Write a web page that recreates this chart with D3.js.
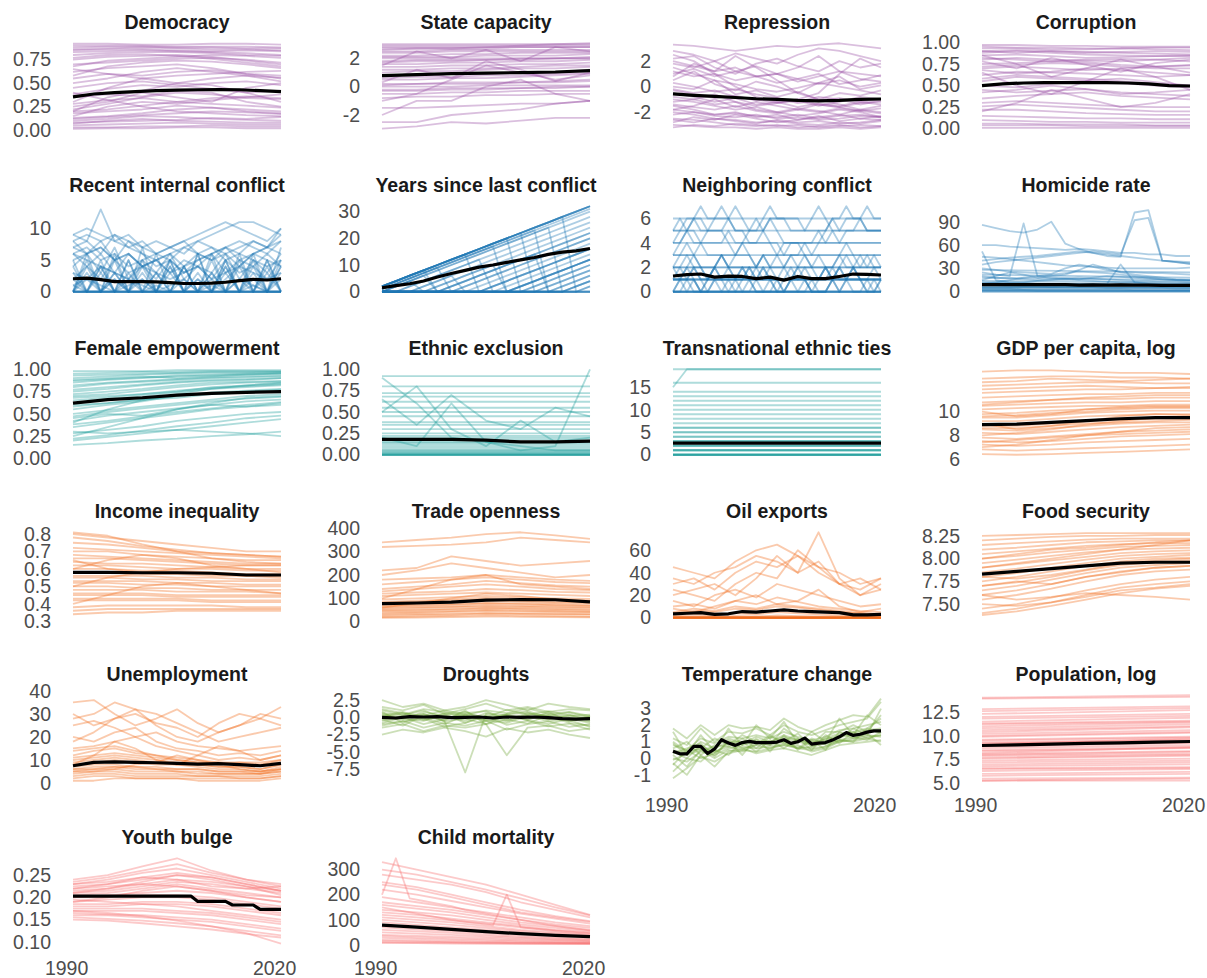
<!DOCTYPE html>
<html>
<head>
<meta charset="utf-8">
<script src="https://cdn.jsdelivr.net/npm/d3@7"></script>
<style>
  body { margin: 0; background: #fff; }
  svg { display: block; }
</style>
</head>
<body>
<div id="chart"></div>
<script>
// Each series is a list of values spread evenly over firstYear..lastYear
const firstYear = 1991, lastYear = 2021;
const xTicks = [1990, 2020];

const titles = [
  "Democracy", "State capacity", "Repression", "Corruption",
  "Recent internal conflict", "Years since last conflict", "Neighboring conflict", "Homicide rate",
  "Female empowerment", "Ethnic exclusion", "Transnational ethnic ties", "GDP per capita, log",
  "Income inequality", "Trade openness", "Oil exports", "Food security",
  "Unemployment", "Droughts", "Temperature change", "Population, log",
  "Youth bulge", "Child mortality"
];
const groups = [
  "gov", "gov", "gov", "gov",
  "conflict", "conflict", "conflict", "conflict",
  "social", "social", "social", "econ",
  "econ", "econ", "econ", "econ",
  "econ", "env", "env", "demo",
  "demo", "demo"
];

// ---- Democracy
const democracyRange = [0.015, 0.925];
const democracyTicks = ["0.00", "0.25", "0.50", "0.75"];
const democracyMean = [0.354, 0.385, 0.40, 0.41, 0.42, 0.426, 0.43, 0.433, 0.43, 0.42, 0.41];
const democracyLines = [
  [0.88,0.89,0.89,0.88,0.88,0.87,0.87], [0.85,0.86,0.86,0.85,0.84,0.85,0.84],
  [0.80,0.82,0.83,0.83,0.82,0.80,0.79], [0.75,0.78,0.79,0.80,0.78,0.74,0.70],
  [0.70,0.72,0.74,0.76,0.77,0.75,0.72], [0.62,0.66,0.68,0.70,0.66,0.60,0.55],
  [0.55,0.60,0.58,0.62,0.64,0.60,0.58], [0.30,0.45,0.55,0.58,0.60,0.62,0.63],
  [0.20,0.35,0.42,0.50,0.48,0.40,0.30], [0.45,0.50,0.52,0.48,0.44,0.40,0.42],
  [0.25,0.30,0.40,0.35,0.30,0.45,0.50], [0.15,0.25,0.30,0.28,0.32,0.35,0.38],
  [0.18,0.20,0.22,0.26,0.24,0.22,0.20], [0.12,0.14,0.16,0.18,0.20,0.19,0.17],
  [0.10,0.12,0.15,0.14,0.12,0.11,0.10], [0.08,0.09,0.10,0.11,0.13,0.12,0.14],
  [0.05,0.06,0.07,0.08,0.07,0.06,0.06], [0.03,0.03,0.04,0.04,0.05,0.04,0.04],
  [0.015,0.02,0.02,0.03,0.03,0.02,0.02], [0.92,0.92,0.91,0.91,0.92,0.92,0.91],
  [0.35,0.38,0.36,0.42,0.40,0.30,0.25], [0.65,0.60,0.55,0.50,0.55,0.58,0.52],
  [0.22,0.28,0.35,0.40,0.38,0.34,0.33], [0.40,0.32,0.25,0.20,0.18,0.16,0.15],
  [0.90,0.90,0.90,0.89,0.89,0.89,0.88], [0.83,0.84,0.85,0.84,0.83,0.82,0.80],
  [0.77,0.80,0.81,0.79,0.76,0.72,0.68], [0.58,0.68,0.72,0.74,0.73,0.70,0.66],
  [0.50,0.55,0.62,0.66,0.62,0.58,0.56], [0.28,0.32,0.34,0.30,0.28,0.26,0.24],
  [0.20,0.22,0.26,0.30,0.34,0.36,0.34], [0.13,0.15,0.18,0.22,0.24,0.20,0.18],
  [0.07,0.10,0.12,0.10,0.09,0.08,0.08], [0.38,0.44,0.48,0.46,0.50,0.52,0.48],
  [0.68,0.74,0.76,0.78,0.80,0.79,0.77], [0.86,0.87,0.88,0.87,0.86,0.86,0.85]
];

// ---- State capacity
const stateRange = [-2.97, 3.07];
const stateTicks = ["-2", "0", "2"];
const stateMean = [0.79, 0.86, 0.92, 0.96, 1.0, 1.04, 1.14];
const stateLines = [
  [3.0,3.0,3.0,3.0,3.0,3.0,3.0], [2.8,2.8,2.8,2.8,2.8,2.8,2.8],
  [2.5,2.5,2.6,2.6,2.6,2.6,2.6], [2.2,2.2,2.3,2.3,2.4,2.4,2.4],
  [2.0,2.0,2.0,2.0,2.0,2.0,2.0], [1.7,1.8,1.8,1.9,1.9,2.0,2.0],
  [1.4,1.4,1.5,1.5,1.6,1.6,1.7], [1.0,1.1,1.1,1.2,1.3,1.3,1.4],
  [0.8,0.8,0.9,0.9,1.0,1.0,1.2], [0.5,0.5,0.6,0.6,0.7,0.8,0.9],
  [0.2,0.2,0.3,0.3,0.3,0.4,0.5], [0.0,0.0,0.0,0.1,0.1,0.1,0.1],
  [-0.2,-0.2,-0.1,-0.1,-0.1,0.0,0.0], [-0.5,-0.5,-0.4,-0.4,-0.3,-0.3,-0.3],
  [-1.0,-0.5,0.5,1.5,1.0,0.5,0.8], [-2.0,-1.0,-1.0,0.0,0.5,-0.5,-1.0],
  [-2.5,-2.5,-2.0,-1.8,-1.6,-1.2,-1.0], [-2.97,-2.8,-2.5,-2.6,-2.4,-2.2,-2.2],
  [-1.5,-1.5,-1.4,-1.3,-1.2,-1.2,-1.0], [1.5,2.5,2.0,2.6,1.8,2.8,2.5],
  [-0.8,-0.7,-0.7,-0.6,-0.6,-0.5,-0.5], [2.6,2.7,2.7,2.8,2.9,3.0,3.07],
  [0.3,1.2,0.6,1.8,1.2,0.4,1.0], [2.9,2.9,2.9,2.9,2.9,2.9,2.9],
  [2.4,2.4,2.5,2.5,2.5,2.5,2.5], [2.1,2.1,2.1,2.2,2.2,2.2,2.3],
  [1.8,1.9,1.9,1.9,2.0,2.0,2.1], [1.2,1.2,1.3,1.3,1.4,1.5,1.5],
  [0.6,0.7,0.7,0.8,0.8,0.9,1.0], [0.1,0.2,0.2,0.2,0.3,0.3,0.4],
  [-0.3,-0.3,-0.2,-0.2,-0.1,-0.1,0.0], [2.7,2.7,2.7,2.7,2.8,2.8,2.8],
  [1.6,1.6,1.7,1.7,1.8,1.8,1.9]
];

// ---- Repression
const repressionRange = [-3.3, 3.4];
const repressionTicks = ["-2", "0", "2"];
const repressionMean = [-0.57, -0.68, -0.76, -0.85, -0.95, -1.0, -1.08, -1.12, -1.08, -1.0, -0.97];
const repressionLines = [
  [3.3,3.2,3.0,2.8,3.0,3.2,3.1,3.3,3.4,3.2,3.0], [2.8,2.5,2.0,2.6,2.2,1.8,2.5,3.0,2.8,2.4,2.0],
  [2.2,2.4,1.5,1.0,1.8,2.2,1.6,1.2,2.0,1.5,1.8], [1.8,1.5,2.0,1.2,0.8,1.0,1.5,2.4,1.2,1.0,0.8],
  [1.2,0.8,1.0,0.5,0.8,0.3,0.6,1.0,0.2,0.5,0.9], [0.5,1.2,0.2,-0.3,0.4,0.0,-0.5,0.3,0.8,-0.2,0.1],
  [0.0,-0.2,0.5,-0.6,-0.3,-0.8,-0.4,-1.0,-0.5,-0.7,-0.3], [-0.5,-0.8,-1.2,-0.9,-1.4,-1.2,-1.6,-1.3,-1.5,-1.2,-1.0],
  [-1.0,-1.2,-1.5,-1.8,-1.6,-2.0,-1.7,-1.9,-2.2,-1.8,-2.0], [-1.5,-1.8,-2.2,-2.0,-2.4,-2.2,-2.6,-2.4,-2.2,-2.5,-2.3],
  [-2.0,-2.2,-2.5,-2.6,-2.8,-2.7,-2.9,-3.0,-2.8,-2.9,-2.7], [-2.5,-2.6,-2.8,-3.0,-3.1,-3.0,-3.2,-3.1,-3.0,-3.2,-3.1],
  [-3.0,-3.1,-3.2,-3.2,-3.3,-3.2,-3.3,-3.3,-3.2,-3.3,-3.2], [0.8,1.8,1.2,2.4,1.5,0.5,-0.5,-1.0,-1.4,-1.8,-1.5],
  [-2.8,-2.4,-2.6,-2.2,-2.5,-2.8,-2.6,-2.3,-2.7,-2.5,-2.6], [-1.8,-1.5,-1.0,-1.6,-1.2,-1.5,-1.8,-1.4,-1.6,-1.9,-1.7],
  [2.5,2.0,1.0,0.0,-0.8,-1.2,-1.0,-0.5,1.0,2.2,1.5], [-0.2,-0.5,-0.3,-0.8,-1.0,-1.3,-1.1,-1.5,-1.2,-0.8,-1.0],
  [1.5,1.0,0.5,0.2,-0.2,-0.4,-0.1,0.3,0.0,-0.3,-0.6], [-1.2,-1.0,-1.4,-1.2,-1.8,-2.0,-2.3,-2.1,-1.8,-2.0,-2.4],
  [-3.2,-3.0,-3.1,-2.9,-3.0,-3.1,-3.0,-3.2,-3.1,-3.0,-3.1], [-2.2,-2.0,-2.3,-2.4,-2.2,-2.5,-2.4,-2.6,-2.5,-2.3,-2.4],
  [-0.8,-1.0,-0.6,-1.2,-1.5,-1.3,-1.0,-1.4,-1.6,-1.3,-1.2], [0.3,0.0,-0.4,-0.2,-0.6,-0.9,-1.2,-0.8,-1.0,-1.4,-1.1],
  [2.0,1.6,1.2,1.5,0.8,1.0,0.6,0.2,0.5,0.0,0.3], [-2.6,-2.8,-2.5,-2.7,-2.9,-2.6,-2.8,-2.7,-2.9,-2.8,-2.6],
  [-1.4,-1.6,-1.8,-1.5,-1.9,-2.1,-1.8,-2.0,-1.7,-1.9,-2.1], [1.0,1.4,0.8,1.2,1.6,1.0,0.4,0.8,1.2,0.6,0.4],
  [-1.8,-2.0,-2.2,-2.1,-2.3,-2.4,-2.2,-2.5,-2.3,-2.2,-2.4], [-0.3,-0.6,-0.9,-0.7,-1.1,-0.9,-1.3,-1.1,-0.9,-1.2,-1.4]
];

// ---- Corruption
const corruptionRange = [0.0, 0.99];
const corruptionTicks = ["0.00", "0.25", "0.50", "0.75", "1.00"];
const corruptionMean = [0.50, 0.52, 0.53, 0.535, 0.535, 0.535, 0.535, 0.53, 0.52, 0.50, 0.495];
const corruptionLines = [
  [0.97,0.97,0.96,0.96,0.95,0.95,0.95], [0.93,0.93,0.92,0.92,0.93,0.92,0.91],
  [0.90,0.88,0.90,0.89,0.88,0.87,0.86], [0.85,0.86,0.84,0.82,0.83,0.84,0.85],
  [0.80,0.82,0.80,0.79,0.78,0.80,0.82], [0.75,0.76,0.78,0.77,0.74,0.72,0.73],
  [0.70,0.72,0.70,0.68,0.70,0.72,0.74], [0.62,0.66,0.65,0.64,0.62,0.60,0.62],
  [0.55,0.60,0.58,0.56,0.58,0.54,0.50], [0.50,0.48,0.52,0.55,0.53,0.50,0.48],
  [0.42,0.45,0.50,0.46,0.40,0.42,0.45], [0.35,0.38,0.40,0.42,0.38,0.36,0.34],
  [0.30,0.32,0.30,0.28,0.26,0.25,0.25], [0.22,0.22,0.20,0.18,0.17,0.16,0.16],
  [0.15,0.14,0.13,0.12,0.12,0.11,0.11], [0.10,0.09,0.08,0.08,0.07,0.07,0.07],
  [0.04,0.04,0.04,0.03,0.03,0.03,0.03], [0.01,0.01,0.01,0.01,0.01,0.01,0.01],
  [0.65,0.50,0.40,0.55,0.70,0.60,0.45], [0.85,0.75,0.60,0.70,0.80,0.72,0.65],
  [0.20,0.30,0.45,0.35,0.25,0.30,0.40], [0.78,0.70,0.82,0.74,0.66,0.76,0.80],
  [0.95,0.94,0.94,0.93,0.93,0.94,0.94], [0.88,0.90,0.88,0.86,0.85,0.84,0.84],
  [0.82,0.80,0.78,0.80,0.81,0.80,0.78], [0.72,0.74,0.76,0.75,0.72,0.70,0.70],
  [0.58,0.62,0.60,0.58,0.55,0.52,0.50], [0.45,0.42,0.44,0.46,0.42,0.40,0.38],
  [0.26,0.28,0.26,0.24,0.22,0.20,0.20], [0.06,0.06,0.05,0.05,0.05,0.04,0.04],
  [0.68,0.64,0.66,0.70,0.68,0.65,0.62], [0.90,0.91,0.90,0.88,0.89,0.90,0.89]
];

// ---- Recent internal conflict
const recentRange = [0, 13.5];
const recentTicks = ["0", "5", "10"];
const recentMean = [2.05, 2.15, 1.9, 1.6, 1.6, 1.6, 1.55, 1.45, 1.3, 1.3, 1.35, 1.5, 1.75, 1.95, 1.85, 2.05];
const recentLines = [
  [0,5,0,6,0,4,0,5,0,6,0,5,0,4,0,5], [4,0,5,0,3,0,6,0,4,0,5,0,6,0,5,0],
  [7,8,6,9,7,8,6,7,8,6,7,5,6,8,7,9], [9,8,13,8,9,7,8,7,6,8,7,6,7,8,7,10],
  [6,7,5,6,4,5,6,5,7,6,5,6,4,6,7,6], [3,2,4,3,2,4,3,2,3,4,2,3,4,3,2,3],
  [8,9,8,9,8,7,6,7,8,9,10,11,10,9,8,10], [2,0,3,0,2,0,0,3,0,2,0,4,0,3,0,4],
  [5,6,7,5,8,6,4,5,3,5,6,7,8,7,6,8], [0,0], [0,0], [0,0], [0,0], [0,0], [0,0],
  [1,0,0,2,0,0,1,0,0,0,2,0,0,1,0,0], [6,5,4,3,2,1,0,0,0,0,0,2,4,6,5,4],
  [9,10,9,8,7,6,5,6,7,8,9,10,11,11,10,9], [4,6,3,7,2,5,3,6,2,4,3,6,2,5,3,6],
  [7,6,8,5,6,4,5,3,4,6,5,7,6,5,4,5], [0,3,0,2,0,3,0,4,0,2,0,3,0,2,0,3],
  [5,0,4,0,5,0,3,0,4,0,6,0,4,0,5,0], [0,4,0,3,0,5,0,4,0,3,0,4,0,5,0,4],
  [3,0,4,0,5,0,3,0,4,0,3,0,5,0,4,0], [2,4,2,5,3,4,2,5,3,4,2,5,3,4,2,5],
  [0,2,0,3,0,2,0,0,2,0,3,0,2,0,3,0], [6,4,6,3,6,4,5,3,5,4,6,3,5,4,6,4],
  [1,2,1,0,1,2,0,1,2,0,1,0,2,1,0,2], [0,6,0,5,0,7,0,5,0,6,0,5,0,6,0,7],
  [8,6,7,5,6,4,5,6,4,5,6,7,5,6,7,8]
];

// ---- Years since last conflict
const yearsRange = [0, 32];
const yearsTicks = ["0", "10", "20", "30"];
const yearsMean = [1.5, 2.3, 3.0, 4.0, 5.5, 6.8, 8.0, 9.2, 10.0, 11.0, 11.9, 12.8, 14.0, 14.8, 15.3, 16.2];
const yearsLines = [
  [2,4,6,8,10,12,14,16,18,20,22,24,26,28,30,32], [2,4,6,8,10,12,14,16,18,20,22,24,26,28,30,32],
  [2,4,6,8,10,12,14,16,18,20,22,24,26,28,30,32], [2,4,6,8,10,12,14,16,18,20,22,24,26,28,30,32],
  [0,2,4,6,8,10,12,14,16,18,20,22,24,26,28,30],
  [0,0,2,4,6,8,10,12,14,16,18,20,22,24,26,28], [0,0,0,2,4,6,8,10,12,14,16,18,20,22,24,26],
  [0,0,0,0,2,4,6,8,10,12,14,16,18,20,22,24], [0,0,0,0,0,0,2,4,6,8,10,12,14,16,18,20],
  [0,0,0,0,0,0,0,0,2,4,6,8,10,12,14,16], [0,0,0,0,0,0,0,0,0,0,2,4,6,8,10,12],
  [0,0,0,0,0,0,0,0,0,0,0,0,2,4,6,8], [0,0,0,0,0,0,0,0,0,0,0,0,0,0,2,4],
  [2,4,6,8,0,2,4,6,8,10,12,14,0,2,4,6], [0,2,4,0,2,4,6,8,10,0,2,4,6,8,10,12],
  [2,4,6,8,10,12,14,16,18,20,0,2,4,6,8,10], [0,0,2,4,6,8,10,12,0,0,2,4,6,8,10,12],
  [2,4,6,8,10,12,14,0,2,4,6,8,10,12,14,16], [0,2,4,6,8,10,12,14,16,18,20,22,24,0,2,4],
  [0,0], [0,0], [0,0], [0,0], [2,4,6,8,10,12,14,16,18,20,22,24,26,28,0,2],
  [0,0,0,2,4,6,0,0,2,4,6,8,10,12,14,16], [1,3,5,7,9,11,13,15,17,19,21,23,25,27,29,31],
  [0,0,0,0,0,2,4,6,8,10,12,14,16,18,20,22], [0,0,0,0,0,0,0,2,4,6,8,10,12,14,16,18],
  [0,0,0,0,0,0,0,0,0,2,4,6,8,10,12,14], [0,0,0,0,0,0,0,0,0,0,0,2,4,6,8,10],
  [0,0,0,0,0,0,0,0,0,0,0,0,0,2,4,6], [1,3,5,7,9,11,13,15,17,19,21,23,0,0,2,4],
  [1,3,5,7,9,0,2,4,6,8,10,12,14,16,18,20], [2,4,6,8,10,12,14,16,18,20,22,0,2,4,6,8],
  [0,2,4,6,0,2,4,6,8,10,12,14,16,18,20,22], [1,3,5,7,9,11,13,15,17,0,2,4,6,8,10,12],
  [0,0,0,0,0,0,0,0,0,0,0,0,0,0,0,2]
];

// ---- Neighboring conflict (mostly yearly)
const neighborRange = [0, 7];
const neighborTicks = ["0", "2", "4", "6"];
const neighborMean = [1.29, 1.40, 1.45, 1.20, 1.28, 1.25, 1.07, 1.2, 0.95, 1.25, 1.07, 1.07, 1.25, 1.45, 1.42, 1.37];
const neighborLines = [
  [0,0], [0,0], [0,0], [0,0], [0,0], [1,1], [1,1], [1,1], [2,2], [2,2], [3,3], [4,4], [5,5], [6,6],
  [1,1,1,1,0,1,1,1,1,1,2,1,1,1,1,1,0,1,1,1,1,1,1,2,1,1,1,1,1,1,1],
  [2,2,3,2,2,2,2,3,2,2,2,2,2,1,2,2,2,3,2,2,2,2,2,2,3,2,2,2,2,2,2],
  [3,3,3,3,4,3,3,3,3,3,3,3,2,3,3,3,3,3,3,4,3,3,3,3,3,3,3,3,3,3,3],
  [4,4,5,4,4,4,4,4,5,4,4,4,4,4,4,3,4,4,4,4,4,5,4,4,4,4,4,4,4,4,4],
  [5,6,5,6,7,6,6,6,6,7,6,5,5,6,7,6,6,6,6,5,5,5,5,6,6,7,6,6,7,6,6],
  [0,1,0,1,0,0,1,0,0,1,0,1,0,0,0,1,0,1,0,0,1,0,0,1,0,1,0,0,1,0,1],
  [1,2,1,2,1,1,2,1,2,1,1,2,1,2,1,1,1,2,1,2,1,1,2,1,2,1,2,1,1,2,1],
  [2,3,4,3,2,1,2,3,2,3,4,3,2,3,2,1,2,3,3,3,2,1,2,2,3,4,3,2,3,2,2],
  [0,0,1,2,1,0,0,0,1,0,0,0,1,2,1,0,0,0,0,1,0,0,0,1,2,3,2,1,0,0,1],
  [3,4,5,5,4,5,5,5,4,3,4,5,6,5,4,4,3,4,4,3,3,4,4,5,4,5,5,5,5,5,5],
  [1,1,1,0,0,0,1,1,1,1,1,1,0,0,0,0,1,1,1,1,0,0,0,1,1,1,1,1,1,1,1],
  [4,5,6,6,6,5,6,7,6,5,5,4,4,5,6,5,4,4,4,4,4,4,5,6,5,6,6,6,5,5,5],
  [0,1,2,1,0,1,2,1,0,0,1,2,1,0,1,0,0,1,2,1,0,1,2,1,0,1,2,1,0,1,0],
  [2,1,2,3,2,1,2,3,2,1,2,1,2,3,2,3,2,1,2,3,2,3,2,1,2,1,2,3,2,3,2],
  [5,5,5,6,5,5,5,5,6,5,5,5,5,5,6,6,6,5,5,5,6,7,6,5,5,5,5,6,5,5,5]
];

// ---- Homicide rate
const homicideRange = [0, 110];
const homicideTicks = ["0", "30", "60", "90"];
const homicideMean = [9.2, 9.2, 9.2, 9.2, 9.2, 9.2, 9.2, 8.5, 8.8, 8.5, 8.8, 8.6, 8.4, 8.2, 8.2, 8.2];
const homicideLines = [
  [86,82,78,76,80,90,62,55,50,48,46,44,42,40,39,38], [25,22,20,88,20,18,17,16,18,20,19,18,17,16,15,15],
  [52,15,12,12,14,15,16,15,14,13,12,12,11,10,10,10], [40,42,44,45,46,48,50,52,50,46,45,102,105,40,38,36],
  [35,38,40,42,44,46,48,50,52,50,48,92,95,40,38,36], [60,60,58,57,56,55,54,55,54,52,50,50,48,48,46,46],
  [45,44,42,40,38,36,34,33,32,31,30,30,30,30,30,31], [30,28,26,25,24,23,30,35,32,28,26,25,24,24,23,22],
  [20,18,17,16,15,16,17,18,17,16,15,14,14,13,13,12], [12,12,11,11,10,10,10,10,10,9,9,9,8,8,8,8],
  [8,8,7,7,7,6,6,6,6,5,5,5,5,5,4,4], [4,4,4,3,3,3,3,3,3,3,3,2,2,2,2,2],
  [2,2,2,2,1,1,1,1,1,1,1,1,1,1,1,1], [15,20,25,22,18,20,22,28,35,30,25,22,20,18,16,15],
  [10,12,15,18,20,22,24,26,25,24,22,20,18,16,15,14], [5,5,5,6,6,6,7,7,8,10,35,12,10,9,8,8],
  [0,0], [1,1], [0.5,0.5], [2,1.5], [3,3], [5,5], [6,5], [7,6], [9,8], [11,10], [14,12],
  [18,15], [22,18], [28,25]
];

// ---- Female empowerment
const femaleRange = [0.04, 1.0];
const femaleTicks = ["0.00", "0.25", "0.50", "0.75", "1.00"];
const femaleMean = [0.62, 0.66, 0.68, 0.71, 0.73, 0.74, 0.75];
const femaleLines = [
  [0.95,0.96,0.97,0.97,0.98,0.98,0.98], [0.90,0.92,0.94,0.95,0.96,0.96,0.97],
  [0.85,0.88,0.90,0.92,0.93,0.94,0.95], [0.80,0.84,0.86,0.88,0.90,0.91,0.92],
  [0.75,0.78,0.82,0.85,0.87,0.88,0.90], [0.70,0.72,0.76,0.80,0.83,0.85,0.86],
  [0.62,0.66,0.70,0.74,0.78,0.80,0.82], [0.55,0.60,0.64,0.70,0.74,0.76,0.78],
  [0.50,0.54,0.58,0.62,0.66,0.70,0.72], [0.42,0.48,0.52,0.56,0.60,0.64,0.66],
  [0.35,0.40,0.45,0.50,0.55,0.58,0.60], [0.28,0.32,0.36,0.42,0.46,0.50,0.52],
  [0.20,0.24,0.28,0.32,0.36,0.40,0.44], [0.15,0.17,0.20,0.22,0.25,0.27,0.30],
  [0.40,0.55,0.65,0.72,0.78,0.82,0.85], [0.30,0.28,0.30,0.32,0.30,0.28,0.25],
  [0.45,0.50,0.48,0.55,0.60,0.58,0.62], [0.88,0.90,0.92,0.90,0.92,0.94,0.95],
  [0.60,0.62,0.66,0.68,0.72,0.74,0.75], [0.25,0.35,0.45,0.55,0.62,0.68,0.70],
  [0.68,0.70,0.72,0.75,0.80,0.82,0.84], [0.93,0.94,0.95,0.96,0.97,0.97,0.97],
  [0.87,0.89,0.91,0.93,0.94,0.95,0.96], [0.82,0.85,0.87,0.89,0.91,0.92,0.93],
  [0.77,0.80,0.83,0.86,0.88,0.89,0.90], [0.72,0.75,0.78,0.82,0.85,0.86,0.87],
  [0.65,0.68,0.72,0.76,0.79,0.81,0.83], [0.58,0.62,0.66,0.70,0.73,0.75,0.77],
  [0.47,0.52,0.56,0.60,0.64,0.67,0.69], [0.38,0.42,0.47,0.52,0.56,0.60,0.63],
  [0.22,0.26,0.31,0.36,0.40,0.45,0.48], [0.98,0.98,0.98,0.99,0.99,0.99,0.99]
];

// ---- Ethnic exclusion
const ethnicRange = [0, 1.0];
const ethnicTicks = ["0.00", "0.25", "0.50", "0.75", "1.00"];
const ethnicMean = [0.18, 0.18, 0.18, 0.17, 0.15, 0.15, 0.16];
const ethnicLines = [
  [0,0], [0,0], [0,0], [0,0], [0,0], [0.01,0.01], [0.02,0.02], [0.03,0.03], [0.04,0.04],
  [0.05,0.05], [0.06,0.06], [0.08,0.08], [0.10,0.10], [0.12,0.12], [0.14,0.14], [0.15,0.15],
  [0.18,0.18], [0.20,0.20], [0.22,0.22], [0.25,0.25], [0.30,0.30], [0.35,0.35], [0.38,0.38],
  [0.45,0.45], [0.50,0.50], [0.55,0.55], [0.62,0.62], [0.68,0.68], [0.72,0.72], [0.80,0.80], [0.92,0.92],
  [0.90,0.60,0.20,0.15,0.10,0.05,0.05], [0.50,0.80,0.30,0.10,0.40,0.15,0.20],
  [0.20,0.10,0.60,0.15,0.05,0.10,1.0], [0.65,0.35,0.70,0.40,0.30,0.55,0.45]
];

// ---- Transnational ethnic ties
const transRange = [0, 19];
const transTicks = ["0", "5", "10", "15"];
const transMean = [2.6, 2.6];
const transLines = [
  [0,0], [0,0], [0,0], [0,0], [0,0], [0,0], [1,1], [1,1], [1,1], [1,1], [2,2], [2,2], [2,2],
  [3,3], [3,3], [3,3], [4,4], [4,4], [5,5], [5,5], [6,6], [6,6], [7,7], [8,8], [9,9],
  [10,10], [11,11], [12,12], [13,13], [14,14], [16,16], [19,19],
  [15,19,19,19,19,19,19,19,19,19,19,19,19,19,19,19]
];

// ---- GDP per capita, log
const gdpRange = [6.35, 13.6];
const gdpTicks = ["6", "8", "10"];
const gdpMean = [8.9, 8.95, 9.1, 9.25, 9.4, 9.5, 9.5];
const gdpLines = [
  [13.4,13.5,13.5,13.4,13.3,13.3,13.2], [12.8,12.9,13.0,13.0,12.9,12.9,12.8],
  [12.2,12.3,12.4,12.5,12.5,12.4,12.4], [11.6,11.7,11.8,11.9,11.9,12.0,12.0],
  [11.2,11.3,11.4,11.5,11.5,11.6,11.6], [10.8,10.9,11.0,11.1,11.1,11.2,11.2],
  [10.5,10.6,10.7,10.8,10.8,10.9,10.9], [10.2,10.3,10.4,10.5,10.5,10.6,10.6],
  [9.8,9.9,10.1,10.2,10.3,10.4,10.4], [9.5,9.5,9.7,9.9,10.0,10.1,10.1],
  [9.2,9.2,9.4,9.6,9.7,9.8,9.8], [8.8,8.8,9.0,9.2,9.3,9.4,9.4],
  [8.5,8.4,8.6,8.8,9.0,9.1,9.1], [8.2,8.1,8.3,8.5,8.7,8.8,8.9],
  [7.8,7.7,7.9,8.1,8.3,8.4,8.5], [7.5,7.4,7.5,7.7,7.9,8.0,8.1],
  [7.2,7.1,7.2,7.4,7.5,7.6,7.7], [6.8,6.7,6.8,6.9,7.0,7.1,7.2],
  [6.4,6.35,6.4,6.5,6.6,6.7,6.8], [9.0,8.5,8.8,9.2,9.6,9.8,9.7],
  [10.0,9.6,9.8,10.2,10.4,10.5,10.5], [8.0,8.2,8.5,8.9,9.2,9.5,9.6],
  [7.0,7.2,7.6,8.0,8.3,8.6,8.7], [11.9,12.0,12.1,12.2,12.1,12.0,12.1],
  [9.6,9.7,9.9,10.0,10.2,10.3,10.3], [8.6,8.6,8.8,9.0,9.1,9.2,9.3],
  [7.4,7.6,7.8,8.0,8.1,8.2,8.3], [10.6,10.8,11.0,11.2,11.3,11.4,11.4],
  [12.5,12.6,12.8,12.7,12.6,12.7,12.8]
];

// ---- Income inequality
const incomeRange = [0.32, 0.81];
const incomeTicks = ["0.3", "0.4", "0.5", "0.6", "0.7", "0.8"];
const incomeMean = [0.58, 0.58, 0.578, 0.578, 0.575, 0.565, 0.565];
const incomeLines = [
  [0.80,0.78,0.76,0.74,0.72,0.70,0.70], [0.75,0.74,0.72,0.70,0.69,0.68,0.67],
  [0.70,0.70,0.68,0.67,0.66,0.65,0.65], [0.66,0.66,0.65,0.64,0.63,0.62,0.62],
  [0.62,0.62,0.61,0.60,0.60,0.59,0.59], [0.58,0.58,0.57,0.57,0.56,0.56,0.56],
  [0.55,0.55,0.54,0.54,0.53,0.53,0.53], [0.52,0.52,0.51,0.51,0.50,0.50,0.50],
  [0.48,0.48,0.48,0.47,0.47,0.47,0.46], [0.45,0.45,0.45,0.44,0.44,0.44,0.44],
  [0.42,0.42,0.42,0.42,0.41,0.41,0.41], [0.38,0.39,0.39,0.39,0.39,0.38,0.38],
  [0.34,0.35,0.35,0.36,0.36,0.36,0.36], [0.40,0.45,0.50,0.52,0.50,0.48,0.46],
  [0.60,0.65,0.68,0.66,0.62,0.60,0.58], [0.81,0.79,0.74,0.70,0.66,0.64,0.63],
  [0.50,0.55,0.58,0.60,0.61,0.62,0.62], [0.65,0.60,0.58,0.58,0.57,0.56,0.55],
  [0.72,0.71,0.70,0.69,0.68,0.67,0.66], [0.68,0.67,0.66,0.65,0.64,0.63,0.63],
  [0.64,0.63,0.63,0.62,0.61,0.60,0.60], [0.60,0.60,0.59,0.59,0.58,0.57,0.57],
  [0.56,0.56,0.56,0.55,0.55,0.54,0.54], [0.53,0.53,0.53,0.52,0.52,0.51,0.51],
  [0.50,0.50,0.49,0.49,0.48,0.48,0.48], [0.46,0.46,0.46,0.45,0.45,0.45,0.45],
  [0.43,0.43,0.43,0.43,0.42,0.42,0.42], [0.36,0.37,0.37,0.37,0.37,0.37,0.37],
  [0.78,0.76,0.73,0.71,0.69,0.68,0.67]
];

// ---- Trade openness
const tradeRange = [17, 383];
const tradeTicks = ["0", "100", "200", "300", "400"];
const tradeMean = [77, 80, 84, 92, 95, 94, 85];
const tradeLines = [
  [340,350,360,375,383,370,355], [320,325,330,340,360,350,340],
  [200,220,250,230,210,190,200], [160,170,180,190,180,170,165],
  [130,140,150,160,150,140,135], [110,115,120,125,120,115,110],
  [95,100,105,110,105,100,98], [80,85,90,95,90,85,82],
  [70,72,75,80,78,74,70], [60,62,65,70,68,65,62],
  [50,52,55,60,58,55,52], [40,42,45,50,48,45,42],
  [30,32,35,38,36,34,32], [20,22,25,28,26,24,22],
  [17,18,20,22,21,20,19], [100,140,180,200,160,150,140],
  [60,80,100,120,110,95,90], [220,230,280,260,240,250,260],
  [25,28,30,35,33,31,30], [35,38,42,46,44,41,40], [45,48,52,56,54,50,48],
  [55,58,62,66,64,60,58], [65,68,72,78,75,70,68], [75,78,84,90,86,80,78],
  [85,90,96,102,98,92,88], [120,125,130,140,135,128,125], [140,150,160,175,165,155,150],
  [180,185,190,200,190,180,175]
];

// ---- Oil exports
const oilRange = [0, 76];
const oilTicks = ["0", "20", "40", "60"];
const oilMean = [3.5, 4, 4.5, 3, 3.5, 5.5, 5, 6, 7, 6, 5.5, 5, 4.5, 2.5, 2.5, 3];
const oilLines = [
  [0,0], [0,0], [0,0], [0,0], [0,0], [0,0], [0,0], [0,0], [1,1],
  [0.5,1,0.8,1.5,1,2,1.5,1,0.5,0.5,0.3], [4,6,5,8,7,10,9,7,5,4,3],
  [2,3,2,4,3,5,4,3,2,2,1], [10,12,8,15,12,18,14,10,8,6,5],
  [30,35,25,40,50,45,55,40,30,25,35], [20,25,30,20,35,55,40,50,30,20,25],
  [45,40,35,50,60,65,55,45,40,30,35], [15,10,20,25,18,30,25,20,15,10,12],
  [5,8,6,10,8,12,10,8,6,4,3], [25,20,15,30,40,35,60,45,30,35,25],
  [35,30,40,45,55,50,40,76,35,20,30], [8,5,10,15,20,12,15,25,10,5,8]
];

// ---- Food security
const foodRange = [7.35, 8.29];
const foodTicks = ["7.50", "7.75", "8.00", "8.25"];
const foodMean = [7.83, 7.86, 7.89, 7.92, 7.95, 7.96, 7.96];
const foodLines = [
  [8.25,8.26,8.27,8.28,8.28,8.28,8.28], [8.15,8.17,8.19,8.21,8.22,8.22,8.22],
  [8.05,8.08,8.11,8.14,8.16,8.17,8.17], [7.95,7.99,8.03,8.07,8.10,8.11,8.12],
  [7.85,7.89,7.94,7.99,8.03,8.05,8.06], [7.75,7.80,7.86,7.92,7.97,8.00,8.01],
  [7.65,7.70,7.77,7.84,7.90,7.93,7.95], [7.55,7.60,7.67,7.75,7.82,7.86,7.88],
  [7.45,7.50,7.57,7.65,7.72,7.77,7.80], [7.38,7.42,7.48,7.55,7.62,7.67,7.70],
  [7.60,7.55,7.58,7.62,7.60,7.58,7.55], [7.90,7.95,8.00,8.05,8.10,8.15,8.20],
  [7.70,7.75,7.72,7.80,7.85,7.90,7.92], [8.00,8.05,8.10,8.12,8.15,8.18,8.20],
  [7.80,7.78,7.82,7.88,7.95,7.98,8.00], [7.50,7.48,7.52,7.58,7.65,7.68,7.72],
  [8.20,8.22,8.24,8.25,8.25,8.26,8.26], [8.10,8.12,8.15,8.18,8.19,8.20,8.20],
  [8.00,8.03,8.07,8.10,8.13,8.14,8.15], [7.90,7.94,7.98,8.02,8.06,8.08,8.09],
  [7.80,7.84,7.90,7.95,8.00,8.02,8.04], [7.70,7.74,7.80,7.87,7.93,7.96,7.98],
  [7.60,7.65,7.72,7.80,7.86,7.90,7.92], [7.40,7.45,7.52,7.60,7.68,7.72,7.75]
];

// ---- Unemployment
const unempRange = [1, 38.1];
const unempTicks = ["0", "10", "20", "30", "40"];
const unempMean = [7.5, 9.0, 9.2, 9.0, 8.8, 8.5, 8.2, 8.4, 8.0, 7.5, 8.5];
const unempLines = [
  [35,36,30,25,28,32,26,22,25,28,33], [30,25,28,32,30,26,22,18,20,22,24],
  [25,27,24,20,22,18,16,15,14,15,16], [20,18,22,24,18,15,14,12,13,12,14],
  [15,16,18,20,16,14,12,10,11,10,12], [12,14,15,13,12,10,9,8,9,8,10],
  [10,11,12,11,10,9,8,7,7,6,8], [8,9,10,9,8,8,7,6,6,5,7],
  [6,7,7,6,6,5,5,4,4,4,5], [4,5,5,4,4,4,3,3,3,3,4],
  [2,3,3,2,2,2,2,2,2,2,3], [18,22,28,30,26,24,20,26,30,28,25],
  [8,12,18,15,10,8,12,16,14,10,12], [28,30,35,32,25,20,18,22,25,30,28],
  [5,5,6,8,9,12,10,8,6,5,6], [3,4,4,3,3,3,3,3,2,2,3], [5,6,6,5,5,5,4,4,4,4,5],
  [7,8,8,7,7,6,6,5,5,5,6], [9,10,11,10,9,8,8,7,7,6,8], [11,12,13,12,11,10,9,9,8,8,9],
  [14,15,16,14,12,11,10,9,9,9,10], [6,6,7,7,6,6,6,5,5,4,6], [1,1,2,2,2,2,1,1,1,1,2]
];

// ---- Droughts
const droughtRange = [-9.2, 3.2];
const droughtTicks = ["-7.5", "-5.0", "-2.5", "0.0", "2.5"];
const droughtMean = [0, -0.1, 0.1, 0.05, 0.1, -0.05, 0, 0.05, -0.1, 0.05, 0, 0.05, -0.05, -0.2, -0.25, -0.2];
const droughtLines = [
  [1.5,1.0,1.8,0.5,1.2,2.0,1.0,1.5,0.8,1.2,1.0], [-1.0,-0.5,-1.5,-0.8,-1.2,-0.5,-1.8,-1.0,-0.6,-1.4,-1.0],
  [0.5,-0.3,0.8,0.2,-0.5,0.6,0.3,-0.2,0.5,0.0,-0.3], [0.0,0.6,-0.4,0.3,0.8,-0.2,0.4,0.7,-0.3,0.2,0.4],
  [-0.5,0.2,0.0,-1.0,0.3,-0.4,-0.8,0.2,-0.6,-0.2,-0.8], [1.0,0.4,1.2,0.8,0.3,1.0,0.6,1.3,0.5,0.8,0.2],
  [-1.5,-1.0,-2.0,-1.2,-1.5,-1.0,-5.5,-1.5,-1.2,-2.0,-1.6], [0.3,0.0,0.5,-0.5,-8.0,0.5,0.0,0.2,-0.3,0.4,-0.5],
  [2.5,1.5,2.0,1.0,1.5,2.5,1.8,1.0,2.0,1.5,1.2], [-2.5,-1.8,-2.2,-1.5,-2.0,-2.8,-1.6,-2.2,-1.8,-2.5,-3.0],
  [0.8,-0.8,0.5,-0.5,1.0,-1.0,0.4,-0.4,0.8,-0.6,0.2], [-0.2,-0.2,-0.5,0.5,-0.8,0.3,-0.6,0.4,0.2,-0.8,-1.2],
  [0.2,0.8,-0.2,0.6,0.1,-0.3,0.5,0.9,0.0,-0.5,0.1], [-0.8,0.0,-1.0,-0.3,0.4,-0.6,0.2,-0.4,-1.0,-0.2,-0.6],
  [1.2,0.6,0.2,1.0,0.5,0.0,1.1,0.4,0.9,0.3,-0.2], [-0.3,-1.2,0.3,-0.6,-0.2,-1.0,-0.3,-0.9,0.3,-0.4,-1.4],
  [0.6,0.3,1.0,-0.2,0.6,0.9,-0.4,0.6,0.2,0.7,0.0], [-1.2,-0.6,-0.2,-1.4,-0.8,0.2,-1.1,-0.5,-1.3,-0.9,-1.8]
];

// ---- Temperature change
const tempRange = [-1.35, 3.8];
const tempTicks = ["-1", "0", "1", "2", "3"];
const tempMean = [0.43, 0.27, 0.27, 0.72, 0.72, 0.29, 0.57, 1.12, 0.92, 0.78, 0.95, 1.02, 0.95, 0.95, 0.95, 0.98,
  1.12, 0.90, 1.00, 1.22, 0.86, 0.92, 0.95, 1.10, 1.30, 1.55, 1.38, 1.45, 1.58, 1.65, 1.66];
const tempLines = [
  [1.2,0.8,1.8,1.0,1.6,1.5,1.8,1.4,2.0,1.6,1.4,1.7,2.0,2.2,2.4,3.4], [-0.3,-1.0,0.2,-0.5,0.4,0.6,0.3,0.5,0.6,0.4,0.2,0.5,0.8,0.9,1.0,1.1],
  [0.8,0.5,1.2,0.9,1.3,1.2,1.4,1.2,1.6,1.3,1.1,1.3,1.7,1.8,2.0,2.2], [0.0,-0.2,0.4,0.2,0.6,0.7,0.6,0.7,0.8,0.7,0.6,0.7,1.0,1.1,1.3,1.4],
  [0.5,0.3,1.0,0.6,1.0,1.0,1.1,1.0,1.3,1.1,1.0,1.1,1.4,1.5,1.7,1.8], [1.6,0.2,1.4,0.4,1.8,0.8,2.0,1.2,2.2,0.9,1.6,1.0,2.4,1.4,2.6,2.0],
  [-0.8,0.0,-0.2,0.5,0.2,1.0,0.4,1.1,0.6,1.2,0.5,1.4,0.9,1.6,1.2,1.0], [0.3,0.6,0.9,0.1,1.1,0.6,0.8,1.4,0.9,0.6,1.2,0.8,1.1,1.0,1.8,1.5],
  [1.0,0.4,0.6,1.2,0.8,1.4,1.0,0.8,1.8,1.2,0.8,1.6,1.6,2.0,1.6,2.6], [0.2,-0.5,0.5,0.0,0.5,0.4,0.8,0.6,0.9,0.8,0.4,0.6,1.0,1.2,1.4,1.3],
  [0.6,1.0,0.2,0.8,0.7,1.2,0.6,1.3,1.0,1.5,0.7,1.2,1.2,1.8,1.4,3.0], [-0.4,0.5,0.0,0.3,1.0,0.2,1.2,0.4,1.4,0.5,1.1,0.5,1.6,1.2,1.5,0.8],
  [-1.2,-0.6,0.1,-0.2,0.3,0.5,0.4,0.6,0.8,0.6,0.5,0.7,1.1,1.0,1.2,1.4], [1.8,1.2,2.0,1.4,2.0,1.8,1.9,1.7,2.4,1.9,1.6,2.0,2.3,2.6,2.5,3.6],
  [0.4,0.0,0.8,0.3,0.9,0.8,1.0,0.9,1.2,1.0,0.8,1.0,1.3,1.4,1.6,1.7], [0.9,0.2,0.5,0.7,1.2,0.9,1.3,1.0,1.4,1.1,0.9,1.2,1.5,1.6,1.8,2.4],
  [-0.1,0.3,0.6,0.4,0.7,0.5,0.9,0.8,1.0,0.6,0.7,0.9,1.1,1.3,1.1,1.6]
];

// ---- Population, log
const popRange = [5.28, 14.26];
const popTicks = ["5.0", "7.5", "10.0", "12.5"];
const popMean = [8.98, 9.05, 9.12, 9.2, 9.26, 9.33, 9.4];
const popLines = [
  [14.0,14.26], [13.9,14.1], [12.6,12.9], [12.0,12.3], [11.5,11.9], [11.0,11.4], [10.6,11.0],
  [10.2,10.6], [9.9,10.3], [9.6,9.9], [9.3,9.6], [9.0,9.3], [8.7,9.0], [8.4,8.7], [8.0,8.3],
  [7.6,7.9], [7.2,7.4], [6.8,7.0], [6.3,6.5], [5.8,6.0], [5.3,5.5], [10.4,10.9], [9.1,9.7],
  [8.2,8.8], [11.2,11.5], [12.3,12.7], [7.9,8.1], [6.6,6.7], [12.8,13.1], [11.8,12.1],
  [11.3,11.6], [10.8,11.2], [10.0,10.4], [9.5,9.8], [9.2,9.5], [8.9,9.2], [8.5,8.8],
  [8.1,8.4], [7.7,8.0], [7.4,7.6], [7.0,7.2], [6.5,6.6], [6.0,6.2], [5.5,5.6], [5.28,5.3]
];

// ---- Youth bulge (mean is yearly)
const youthRange = [0.096, 0.288];
const youthTicks = ["0.10", "0.15", "0.20", "0.25"];
const youthMean = [0.203, 0.203, 0.203, 0.203, 0.203, 0.203, 0.203, 0.203, 0.203, 0.203, 0.203, 0.203, 0.203,
  0.203, 0.203, 0.203, 0.203, 0.203, 0.191, 0.191, 0.191, 0.191, 0.191, 0.183, 0.183, 0.183, 0.183,
  0.173, 0.173, 0.173, 0.173];
const youthLines = [
  [0.24,0.25,0.27,0.288,0.26,0.24,0.23], [0.23,0.24,0.255,0.265,0.25,0.235,0.22],
  [0.22,0.23,0.24,0.25,0.245,0.23,0.215], [0.21,0.215,0.225,0.235,0.23,0.22,0.21],
  [0.20,0.205,0.21,0.215,0.21,0.20,0.19], [0.19,0.195,0.20,0.20,0.195,0.185,0.175],
  [0.18,0.18,0.185,0.185,0.18,0.17,0.16], [0.17,0.17,0.17,0.165,0.16,0.15,0.14],
  [0.16,0.16,0.155,0.15,0.145,0.135,0.125], [0.15,0.148,0.142,0.135,0.128,0.118,0.11],
  [0.17,0.165,0.158,0.148,0.135,0.12,0.096], [0.22,0.225,0.23,0.225,0.215,0.205,0.20],
  [0.205,0.21,0.22,0.23,0.22,0.21,0.20], [0.23,0.235,0.245,0.24,0.225,0.22,0.225],
  [0.195,0.19,0.185,0.18,0.17,0.16,0.15], [0.215,0.22,0.235,0.25,0.24,0.225,0.215],
  [0.235,0.245,0.26,0.275,0.255,0.24,0.225], [0.225,0.23,0.245,0.255,0.245,0.23,0.215],
  [0.21,0.22,0.23,0.24,0.235,0.225,0.205], [0.20,0.20,0.205,0.205,0.20,0.19,0.18],
  [0.185,0.185,0.19,0.19,0.185,0.175,0.165], [0.175,0.175,0.175,0.17,0.165,0.155,0.145],
  [0.165,0.162,0.16,0.155,0.15,0.14,0.13], [0.155,0.152,0.148,0.142,0.135,0.125,0.115],
  [0.19,0.20,0.215,0.225,0.215,0.20,0.19]
];

// ---- Child mortality
const childRange = [5, 345];
const childTicks = ["0", "100", "200", "300"];
const childMean = [79, 71, 62, 53, 45, 38, 33];
const childLines = [
  [330,300,270,240,200,160,120], [280,260,240,210,170,140,110],
  [250,230,200,170,140,115,95], [220,200,175,150,125,105,85],
  [190,170,150,130,110,90,75], [160,145,130,110,90,75,60],
  [130,120,105,90,75,60,50], [110,100,90,75,60,50,40],
  [90,80,70,60,50,40,32], [70,62,55,47,38,30,24],
  [50,45,40,34,28,22,18], [35,30,26,22,18,15,12],
  [20,17,14,12,10,8,7], [10,9,8,7,6,5,5],
  [200,345,185,175,165,155,140,130,120,110,100,90,80,72,65,58],
  [150,140,130,120,110,100,92,85,78,200,70,64,58,52,48,44],
  [60,54,48,40,32,26,21], [40,36,32,28,23,19,15], [28,24,20,17,14,11,9],
  [15,13,11,9,8,7,6], [8,7,6,5,5,5,5], [100,90,80,68,55,45,36],
  [120,110,98,85,70,58,47], [140,130,118,100,82,68,55], [170,155,140,120,100,82,68],
  [240,220,190,160,130,110,92], [300,280,250,220,185,150,118]
];

// table used for drawing, built from the arrays above
const ranges = [democracyRange, stateRange, repressionRange, corruptionRange, recentRange, yearsRange,
  neighborRange, homicideRange, femaleRange, ethnicRange, transRange, gdpRange, incomeRange, tradeRange,
  oilRange, foodRange, unempRange, droughtRange, tempRange, popRange, youthRange, childRange];
const tickSets = [democracyTicks, stateTicks, repressionTicks, corruptionTicks, recentTicks, yearsTicks,
  neighborTicks, homicideTicks, femaleTicks, ethnicTicks, transTicks, gdpTicks, incomeTicks, tradeTicks,
  oilTicks, foodTicks, unempTicks, droughtTicks, tempTicks, popTicks, youthTicks, childTicks];
const means = [democracyMean, stateMean, repressionMean, corruptionMean, recentMean, yearsMean,
  neighborMean, homicideMean, femaleMean, ethnicMean, transMean, gdpMean, incomeMean, tradeMean,
  oilMean, foodMean, unempMean, droughtMean, tempMean, popMean, youthMean, childMean];
const lineSets = [democracyLines, stateLines, repressionLines, corruptionLines, recentLines, yearsLines,
  neighborLines, homicideLines, femaleLines, ethnicLines, transLines, gdpLines, incomeLines, tradeLines,
  oilLines, foodLines, unempLines, droughtLines, tempLines, popLines, youthLines, childLines];

const panels = titles.map((t, i) => ({
  title: t, group: groups[i], range: ranges[i], ticks: tickSets[i], mean: means[i], lines: lineSets[i]
}));

// ---- styles
const groupColor = {
  gov: "#984ea3", conflict: "#1f78b4", social: "#1f9e9c",
  econ: "#f26b1d", env: "#71a53a", demo: "#f86c6c"
};
const width = 1207, height = 978;
const colLeft = [73, 382, 673, 982];
const plotW = 208;
const rowStep = 163, panelTop = 39, panelH = 94;
const fontFamily = '"Liberation Sans", Arial, Helvetica, sans-serif';

const svg = d3.select("#chart").append("svg")
  .attr("width", width)
  .attr("height", height)
  .style("font-family", fontFamily);
svg.append("rect").attr("width", width).attr("height", height).attr("fill", "#fff");

const toPoints = (vals) =>
  vals.map((v, k) => [firstYear + (k * (lastYear - firstYear)) / (vals.length - 1), v]);

panels.forEach((p, i) => {
  const col = i % 4;
  const row = Math.floor(i / 4);
  const left = colLeft[col];
  const top = row * rowStep;

  const x = d3.scaleLinear().domain([firstYear, lastYear]).range([left, left + plotW]);
  const pad = (p.range[1] - p.range[0]) * 0.05;
  const y = d3
    .scaleLinear()
    .domain([p.range[0] - pad, p.range[1] + pad])
    .range([top + panelTop + panelH, top + panelTop]);

  const line = d3.line().x((d) => x(d[0])).y((d) => y(d[1]));
  const g = svg.append("g");

  g.selectAll(".country")
    .data(p.lines)
    .join("path")
    .attr("class", "country")
    .attr("d", (d) => line(toPoints(d)))
    .attr("fill", "none")
    .attr("stroke", groupColor[p.group])
    .attr("stroke-opacity", 0.36)
    .attr("stroke-width", 1.8)
    .attr("stroke-linejoin", "round");

  g.append("path")
    .attr("d", line(toPoints(p.mean)))
    .attr("fill", "none")
    .attr("stroke", "#000")
    .attr("stroke-width", 3.2)
    .attr("stroke-linejoin", "round");

  // y axis: labels only
  const yAxis = g
    .append("g")
    .attr("transform", `translate(${left},0)`)
    .call(
      d3.axisLeft(y)
        .tickValues(p.ticks.map(Number))
        .tickFormat((d, k) => p.ticks[k])
        .tickSize(0)
        .tickPadding(22)
    );
  yAxis.select(".domain").remove();
  yAxis.selectAll("text")
    .attr("fill", "#4d4d4d")
    .style("font-size", "19.5px")
    .style("font-family", fontFamily);

  // x axis only under the last panel of each column
  if (i + 4 >= panels.length) {
    const xAxis = g
      .append("g")
      .attr("transform", `translate(0,${top + 146})`)
      .call(d3.axisBottom(x).tickValues(xTicks).tickFormat(d3.format("d")).tickSize(0).tickPadding(0));
    xAxis.select(".domain").remove();
    xAxis.selectAll("text")
      .attr("fill", "#4d4d4d")
      .style("font-size", "19.5px")
      .style("font-family", fontFamily);
  }

  g.append("text")
    .attr("x", left + plotW / 2)
    .attr("y", top + 29)
    .attr("text-anchor", "middle")
    .attr("font-weight", "bold")
    .attr("font-size", 19.5)
    .attr("fill", "#1a1a1a")
    .text(p.title);
});
</script>
</body>
</html>
